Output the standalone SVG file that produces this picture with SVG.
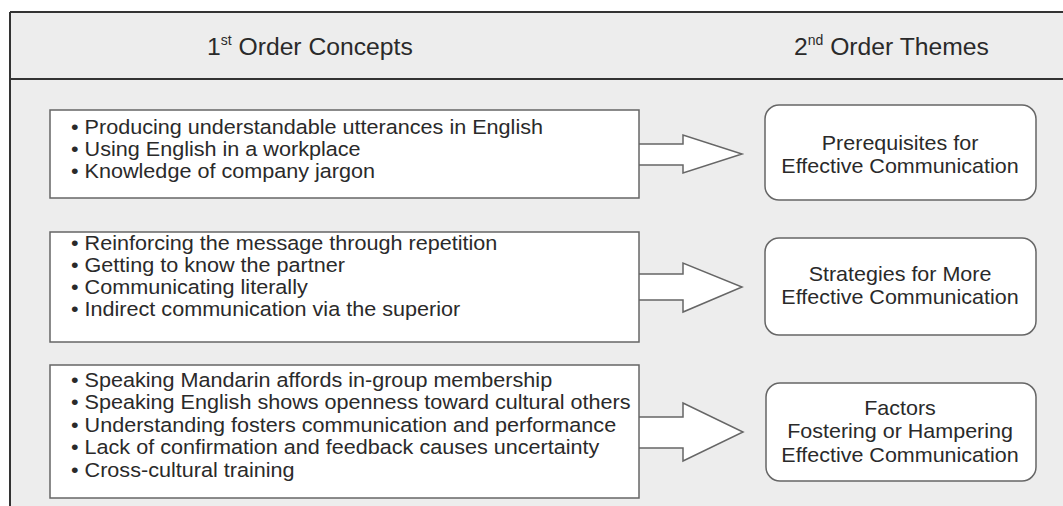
<svg xmlns="http://www.w3.org/2000/svg" width="1063" height="506" viewBox="0 0 1063 506">
<style>
text{font-family:"Liberation Sans",Arial,sans-serif;fill:#2a2a2a}
.hd{font-size:24.7px}
.sup{font-size:14px}
.b{font-size:19.5px}
.t{font-size:20.5px;text-anchor:middle}
.box{fill:#fff;stroke:#666;stroke-width:1.5}
.rbox{fill:#fff;stroke:#666;stroke-width:1.5}
.arr{fill:#fff;stroke:#666;stroke-width:1.5;stroke-linejoin:miter}
</style>
<rect x="0" y="0" width="1063" height="506" fill="#fff"/>
<g id="frame">
<rect x="10" y="12" width="1060" height="500" fill="#ededed"/>
<path d="M10,12H1063M10,79H1063M10,12V506" fill="none" stroke="#333" stroke-width="2"/>
<text class="hd" x="207" y="55">1<tspan class="sup" dy="-10">st</tspan><tspan dy="10"> Order Concepts</tspan></text>
<text class="hd" x="794" y="55">2<tspan class="sup" dy="-10">nd</tspan><tspan dy="10"> Order Themes</tspan></text>
</g>
<g id="connectors">
<path class="arr" d="M639,144H683V135L742,154L683,173V165H639"/>
<path class="arr" d="M639,274H683V263L742,287L683,312V300H639"/>
<path class="arr" d="M639,417H683V403L743,432L683,461V448H639"/>
</g>
<g id="c1">
<rect class="box" x="50" y="110" width="589" height="88"/>
<g transform="scale(1.108 1)">
<text class="b" x="64.1" y="134">• Producing understandable utterances in English</text>
<text class="b" x="64.1" y="156">• Using English in a workplace</text>
<text class="b" x="64.1" y="178">• Knowledge of company jargon</text>
</g>
</g>
<g id="c2">
<rect class="box" x="50" y="232" width="589" height="110"/>
<g transform="scale(1.108 1)">
<text class="b" x="64.1" y="250">• Reinforcing the message through repetition</text>
<text class="b" x="64.1" y="272">• Getting to know the partner</text>
<text class="b" x="64.1" y="294">• Communicating literally</text>
<text class="b" x="64.1" y="316">• Indirect communication via the superior</text>
</g>
</g>
<g id="c3">
<rect class="box" x="50" y="365" width="589" height="133"/>
<g transform="scale(1.108 1)">
<text class="b" x="64.1" y="387">• Speaking Mandarin affords in-group membership</text>
<text class="b" x="64.1" y="409.5">• Speaking English shows openness toward cultural others</text>
<text class="b" x="64.1" y="432">• Understanding fosters communication and performance</text>
<text class="b" x="64.1" y="454.5">• Lack of confirmation and feedback causes uncertainty</text>
<text class="b" x="64.1" y="477">• Cross-cultural training</text>
</g>
</g>
<g id="t1">
<rect class="rbox" x="765" y="105" width="271" height="95" rx="14"/>
<g transform="scale(1.049 1)">
<text class="t" x="858" y="150">Prerequisites for</text>
<text class="t" x="858" y="173">Effective Communication</text>
</g>
</g>
<g id="t2">
<rect class="rbox" x="765" y="238" width="271" height="97" rx="14"/>
<g transform="scale(1.049 1)">
<text class="t" x="858" y="281">Strategies for More</text>
<text class="t" x="858" y="304">Effective Communication</text>
</g>
</g>
<g id="t3">
<rect class="rbox" x="766" y="383" width="270" height="98" rx="14"/>
<g transform="scale(1.049 1)">
<text class="t" x="858" y="415">Factors</text>
<text class="t" x="858" y="438.5">Fostering or Hampering</text>
<text class="t" x="858" y="462">Effective Communication</text>
</g>
</g>
</svg>
